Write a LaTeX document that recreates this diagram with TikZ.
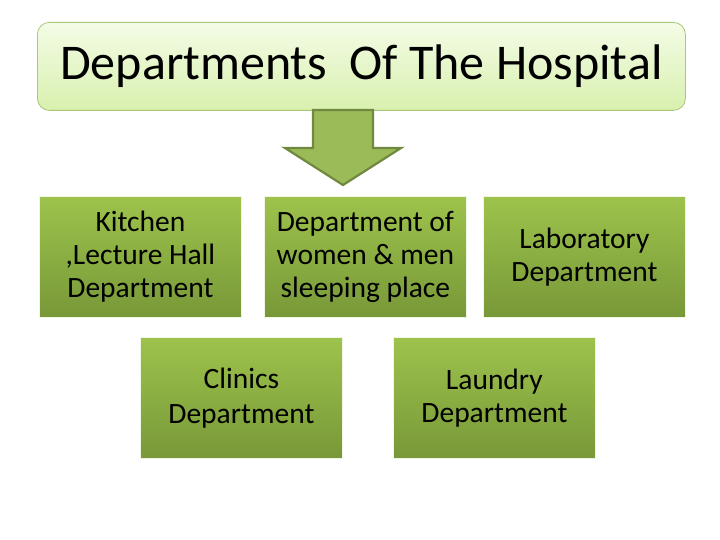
\documentclass[tikz,border=0pt]{standalone}
\usepackage{fontspec}
\setmainfont{Carlito}
\definecolor{boxtop}{HTML}{9DC34C}
\definecolor{boxbot}{HTML}{789838}
\definecolor{titletop}{HTML}{F4FCE6}
\definecolor{titlebot}{HTML}{D8F0AE}
\definecolor{titleedge}{HTML}{A8C878}
\definecolor{arrowfill}{HTML}{9BBB59}
\definecolor{arrowedge}{HTML}{71893F}
\tikzset{
  dept/.style={draw=white!85!boxtop, line width=0.8pt, top color=boxtop, bottom color=boxbot,
    minimum width=202pt, minimum height=121pt, align=center,
    inner sep=0pt, font=\fontsize{29.5}{33}\selectfont, anchor=north west},
  titlebox/.style={draw=titleedge, line width=0.8pt, rounded corners=12pt, top color=titletop,
    bottom color=titlebot, minimum width=648pt, minimum height=88pt, inner sep=0pt,
    font=\fontsize{50}{58}\selectfont, anchor=north west}
}
\begin{document}
\begin{tikzpicture}[x=1pt,y=-1pt]
\useasboundingbox (0,0) rectangle (720,540);
\fill[white] (0,0) rectangle (720,540);
\node[titlebox] (title) at (37,22) {Departments\ \ Of The Hospital};
\draw[arrowedge, fill=arrowfill, line width=2.2pt, line join=miter]
  (313,110) -- (373,110) -- (373,148) -- (401,148) -- (343,185) -- (285,148) -- (313,148) -- cycle;
\node[dept] (kitchen) at (39,196) {Kitchen\\,Lecture Hall\\Department};
\node[dept] (women) at (264,196) {Department of\\women \& men\\sleeping place};
\node[dept] (lab) at (483,196) {Laboratory\\Department};
\node[dept] (clinics) at (140,337) {Clinics\\[2pt]Department};
\node[dept] (laundry) at (393,337) {Laundry\\Department};
\end{tikzpicture}
\end{document}
